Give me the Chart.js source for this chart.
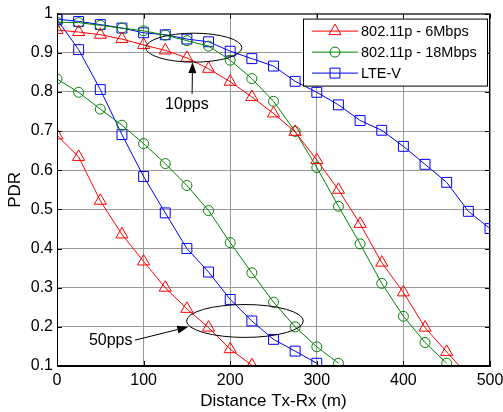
<!DOCTYPE html>
<html>
<head>
<meta charset="utf-8">
<script src="https://cdn.jsdelivr.net/npm/chart.js@4.4.1/dist/chart.umd.min.js"></script>
<style>
  html, body { margin: 0; padding: 0; background: #fff; }
</style>
</head>
<body>
<canvas id="pdrChart" width="503" height="412"></canvas>
<script>
// Distance Tx-Rx (m), one point every 25 m
const distance = [0, 25, 50, 75, 100, 125, 150, 175, 200, 225, 250, 275, 300, 325, 350, 375, 400, 425, 450, 475, 500];

// PDR at 10pps
const wifi6_10pps = [0.958, 0.953, 0.946, 0.935, 0.920, 0.906, 0.887, 0.859, 0.826, 0.787, 0.745, 0.698, 0.626, 0.550, 0.463, 0.364, 0.288, 0.198, 0.136, 0.075];
const wifi18_10pps = [0.978, 0.977, 0.970, 0.963, 0.956, 0.945, 0.931, 0.917, 0.881, 0.834, 0.776, 0.699, 0.607, 0.508, 0.412, 0.311, 0.227, 0.160, 0.107];
const ltev_10pps = [0.986, 0.980, 0.972, 0.963, 0.951, 0.946, 0.935, 0.928, 0.904, 0.885, 0.866, 0.827, 0.799, 0.767, 0.727, 0.702, 0.661, 0.615, 0.569, 0.495, 0.451];

// PDR at 50pps
const wifi6_50pps = [0.689, 0.634, 0.522, 0.436, 0.367, 0.300, 0.246, 0.198, 0.143, 0.102];
const wifi18_50pps = [0.833, 0.799, 0.756, 0.715, 0.668, 0.617, 0.561, 0.497, 0.415, 0.338, 0.263, 0.200, 0.149, 0.107];
const ltev_50pps = [0.985, 0.908, 0.806, 0.691, 0.584, 0.491, 0.400, 0.340, 0.270, 0.215, 0.168, 0.138, 0.107];

const seriesNames = ['802.11p - 6Mbps', '802.11p - 18Mbps', 'LTE-V'];
const xTicks = [0, 100, 200, 300, 400, 500];
const yTicks = [0.1, 0.2, 0.3, 0.4, 0.5, 0.6, 0.7, 0.8, 0.9, 1];

const RED = '#ff0000', GREEN = '#008000', BLUE = '#0000ff';
const FONT = '"Liberation Sans", Arial, sans-serif';

// pair each PDR array with the distance axis
function toPoints(values) {
    return values.map((v, i) => ({ x: distance[i], y: v }));
}

function makeSet(label, values, color, style, radius, inLegend) {
    return {
        label: label,
        data: toPoints(values),
        borderColor: color,
        borderWidth: 1,
        backgroundColor: 'transparent',
        pointStyle: style,
        pointRadius: radius,
        pointBorderColor: color,
        pointBackgroundColor: 'transparent',
        pointBorderWidth: 1,
        tension: 0,
        inLegend: inLegend
    };
}

const datasets = [
    makeSet(seriesNames[0], wifi6_10pps, RED, 'triangle', 7, true),
    makeSet(seriesNames[1], wifi18_10pps, GREEN, 'circle', 5, true),
    makeSet(seriesNames[2], ltev_10pps, BLUE, 'rect', 7, true),
    makeSet(seriesNames[0], wifi6_50pps, RED, 'triangle', 7, false),
    makeSet(seriesNames[1], wifi18_50pps, GREEN, 'circle', 5, false),
    makeSet(seriesNames[2], ltev_50pps, BLUE, 'rect', 7, false)
];

// ellipse + arrow annotations, in data units
const notes = [
    { text: '10pps', cx: 158, cy: 0.913, rx: 55.5, ry: 0.037, from: [156, 0.795], to: [156.5, 0.876], tx: 150, ty: 0.768 },
    { text: '50pps', cx: 217, cy: 0.215, rx: 67.4, ry: 0.042, from: [90, 0.166], to: [151.6, 0.2], tx: 62, ty: 0.166 }
];

// small marker drawer for the legend
function marker(c, style, x, y, r) {
    c.beginPath();
    if (style === 'circle') {
        c.arc(x, y, r, 0, Math.PI * 2);
    } else if (style === 'rect') {
        const s = r * Math.SQRT1_2;
        c.rect(x - s, y - s, 2 * s, 2 * s);
    } else {
        for (let k = 0; k < 3; k++) {
            const a = k * 2 * Math.PI / 3;
            const px = x + Math.sin(a) * r, py = y - Math.cos(a) * r;
            if (k === 0) c.moveTo(px, py); else c.lineTo(px, py);
        }
        c.closePath();
    }
    c.stroke();
}

const extrasPlugin = {
    id: 'extras',
    afterDatasetsDraw(chart) {
        const c = chart.ctx;
        const xs = chart.scales.x, ys = chart.scales.y;
        const area = chart.chartArea;
        c.save();

        // box and inward ticks
        c.strokeStyle = '#000';
        c.lineWidth = 1;
        c.strokeRect(area.left + 0.5, area.top + 0.5, area.right - area.left - 1, area.bottom - area.top - 1);
        c.beginPath();
        xTicks.forEach(v => {
            const px = Math.round(xs.getPixelForValue(v)) + 0.5;
            c.moveTo(px, area.bottom); c.lineTo(px, area.bottom - 5);
            c.moveTo(px, area.top); c.lineTo(px, area.top + 5);
        });
        yTicks.forEach(v => {
            const py = Math.round(ys.getPixelForValue(v)) + 0.5;
            c.moveTo(area.left, py); c.lineTo(area.left + 5, py);
            c.moveTo(area.right, py); c.lineTo(area.right - 5, py);
        });
        c.stroke();

        // annotations
        c.font = '16px ' + FONT;
        c.textAlign = 'center';
        c.textBaseline = 'middle';
        notes.forEach(n => {
            const cx = xs.getPixelForValue(n.cx), cy = ys.getPixelForValue(n.cy);
            const rx = xs.getPixelForValue(n.cx + n.rx) - cx;
            const ry = cy - ys.getPixelForValue(n.cy + n.ry);
            c.beginPath();
            c.ellipse(cx, cy, rx, ry, 0, 0, Math.PI * 2);
            c.stroke();

            const x1 = xs.getPixelForValue(n.from[0]), y1 = ys.getPixelForValue(n.from[1]);
            const x2 = xs.getPixelForValue(n.to[0]), y2 = ys.getPixelForValue(n.to[1]);
            const ang = Math.atan2(y2 - y1, x2 - x1);
            const head = 11, half = 4;
            const bx = x2 - Math.cos(ang) * head, by = y2 - Math.sin(ang) * head;
            c.beginPath();
            c.moveTo(x1, y1); c.lineTo(bx, by);
            c.stroke();
            c.beginPath();
            c.moveTo(x2, y2);
            c.lineTo(bx + Math.sin(ang) * half, by - Math.cos(ang) * half);
            c.lineTo(bx - Math.sin(ang) * half, by + Math.cos(ang) * half);
            c.closePath();
            c.fillStyle = '#000';
            c.fill();

            c.fillText(n.text, xs.getPixelForValue(n.tx), ys.getPixelForValue(n.ty));
        });

        // legend box, top right inside the axes
        const lw = 184, lh = 67;
        const lx = area.right - 3 - lw, ly = area.top + 5;
        c.fillStyle = '#fff';
        c.fillRect(lx, ly, lw, lh);
        c.strokeStyle = '#000';
        c.strokeRect(lx + 0.5, ly + 0.5, lw, lh);
        c.font = '14.5px ' + FONT;
        c.textAlign = 'left';
        c.fillStyle = '#000';
        chart.data.datasets.filter(d => d.inLegend).forEach((d, i) => {
            const y = ly + 12.5 + i * 21;
            c.strokeStyle = d.borderColor;
            c.beginPath();
            c.moveTo(lx + 9, y); c.lineTo(lx + 55, y);
            c.stroke();
            marker(c, d.pointStyle, lx + 32, y, d.pointRadius);
            c.fillStyle = '#000';
            c.fillText(d.label, lx + 58, y + 1);
        });
        c.restore();
    }
};

const ctx = document.getElementById('pdrChart').getContext('2d');

new Chart(ctx, {
    type: 'line',
    data: { datasets: datasets },
    plugins: [extrasPlugin],
    options: {
        responsive: false,
        animation: false,
        layout: { padding: { top: 11, right: 13, left: 0, bottom: 0 } },
        plugins: {
            legend: { display: false },
            tooltip: { enabled: false }
        },
        scales: {
            x: {
                type: 'linear',
                min: 0,
                max: 500,
                afterBuildTicks: s => { s.ticks = xTicks.map(v => ({ value: v })); },
                afterFit: s => { s.height = 46; s.paddingRight = 0; s.paddingLeft = 0; },
                grid: { color: '#999', drawTicks: false },
                border: { color: '#000' },
                ticks: { color: '#000', padding: 5, font: { size: 16, family: FONT } },
                title: {
                    display: true,
                    text: 'Distance Tx-Rx (m)',
                    color: '#000',
                    padding: { top: 0, bottom: 0 },
                    font: { size: 17, family: FONT }
                }
            },
            y: {
                min: 0.1,
                max: 1,
                afterBuildTicks: s => { s.ticks = yTicks.map(v => ({ value: v })); },
                afterFit: s => { s.width = 57; },
                grid: { color: '#999', drawTicks: false },
                border: { color: '#000' },
                ticks: {
                    color: '#000',
                    padding: 4,
                    font: { size: 16, family: FONT },
                    callback: v => (v === 1 ? '1' : v.toFixed(1))
                },
                title: {
                    display: true,
                    text: 'PDR',
                    color: '#000',
                    padding: { top: 5, bottom: 0 },
                    font: { size: 17, family: FONT }
                }
            }
        }
    }
});
</script>
</body>
</html>
